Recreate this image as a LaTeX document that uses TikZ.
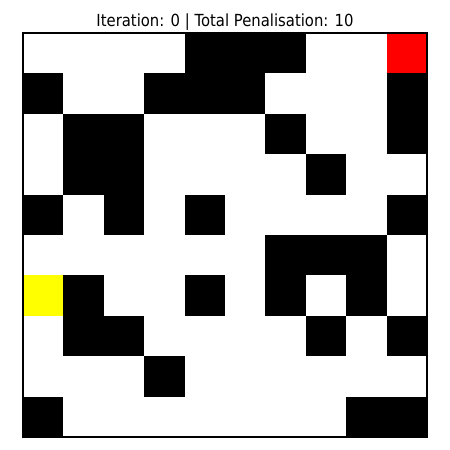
\documentclass[tikz,border=0pt]{standalone}
\usepackage{fontspec}
\usepackage{graphicx}
\setmainfont{DejaVu Sans}
\begin{document}
\begin{tikzpicture}[x=0.72pt,y=-0.72pt,
  wall/.style={fill=black},
  goal/.style={fill=red},
  agent/.style={fill={rgb,255:red,255;green,255;blue,0}},
  frame/.style={draw=black,line width=0.8pt},
  titlestyle/.style={font=\fontsize{12}{14}\selectfont,anchor=base,inner sep=0pt}]
\useasboundingbox[fill=white] (0,0) rectangle (450,450);
\def\s{40.4}
\begin{scope}[shift={(23,33)}]
  \foreach \r/\c in {0/4,0/5,0/6,
                     1/0,1/3,1/4,1/5,1/9,
                     2/1,2/2,2/6,2/9,
                     3/1,3/2,3/7,
                     4/0,4/2,4/4,4/9,
                     5/6,5/7,5/8,
                     6/1,6/4,6/6,6/8,
                     7/1,7/2,7/7,7/9,
                     8/3,
                     9/0,9/8,9/9}
    \fill[wall] (\c*\s,\r*\s) rectangle ({(\c+1)*\s},{(\r+1)*\s});
  \fill[goal] (9*\s,0) rectangle (10*\s,\s);
  \fill[agent] (0,6*\s) rectangle (\s,7*\s);
  \draw[frame] (0,0) rectangle (10*\s,10*\s);
\end{scope}
\node[titlestyle] (title) at (225,26.5) {\scalebox{0.89}[1]{Iteration: 0 | Total Penalisation: 10}};
\end{tikzpicture}
\end{document}
